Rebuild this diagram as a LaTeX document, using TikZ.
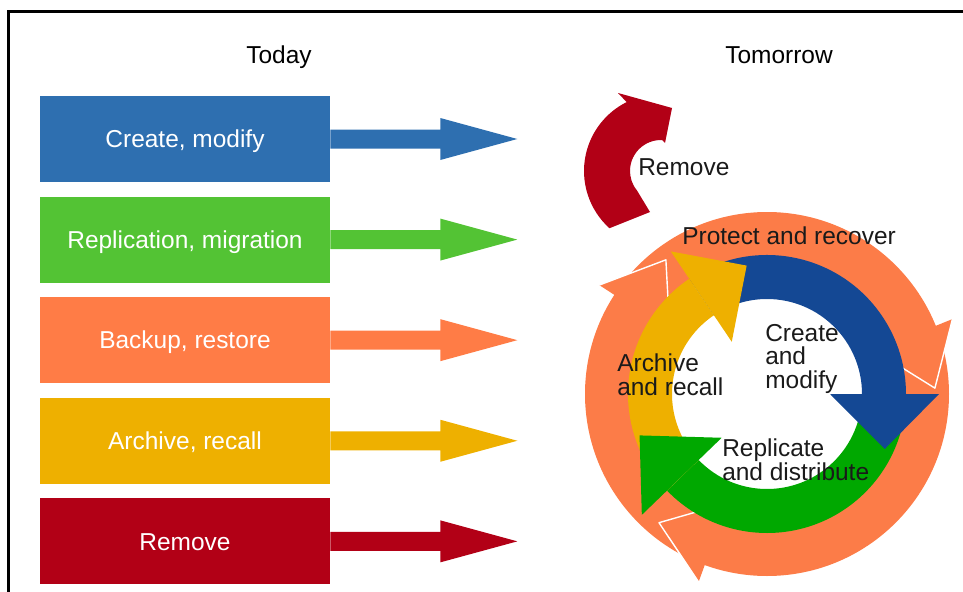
\documentclass[tikz,border=0pt]{standalone}
\usepackage{fontspec}
\setmainfont{Liberation Sans}
\usetikzlibrary{positioning}

\definecolor{boxblue}{RGB}{46,111,176}
\definecolor{boxgreen}{RGB}{83,195,52}
\definecolor{boxorange}{RGB}{255,124,70}
\definecolor{boxyellow}{RGB}{238,176,0}
\definecolor{boxred}{RGB}{178,0,22}
\definecolor{ringblue}{RGB}{20,72,148}
\definecolor{ringgreen}{RGB}{0,168,0}
\definecolor{ringorange}{RGB}{252,124,72}
\definecolor{ringyellow}{RGB}{238,176,0}
\definecolor{textgray}{RGB}{26,26,26}

\tikzset{
  todaybox/.style={rectangle, minimum width=7.25cm, minimum height=2.15cm,
    inner sep=0pt, text=white, text height=12.4pt, text depth=0pt},
  ringtext/.style={anchor=base west, inner sep=0pt, align=left, text=textgray},
}

\begin{document}
\begin{tikzpicture}[x=0.025cm, y=0.025cm, font=\fontsize{17.4}{16.6}\selectfont]
    \useasboundingbox (0,0) rectangle (963,-592);
    \clip (0,0) rectangle (963,-592);
    \draw[line width=2.1pt] (8.8,-650) -- (8.8,-11.8) -- (1000,-11.8);

    % today
    \node[anchor=base] (today) at (279,-63) {Today};
    \node[todaybox, fill=boxblue] (create) at (185,-139) {Create, modify};
    \node[todaybox, fill=boxgreen, below=0.35cm of create] (replic) {Replication, migration};
    \node[todaybox, fill=boxorange, below=0.35cm of replic] (backup) {Backup, restore};
    \node[todaybox, fill=boxyellow, below=0.35cm of backup] (archive) {Archive, recall};
    \node[todaybox, fill=boxred, below=0.35cm of archive] (remove) {Remove};
    \foreach \b/\c in {create/boxblue, replic/boxgreen, backup/boxorange, archive/boxyellow, remove/boxred}
      \fill[\c] (\b.east) ++(0,9.5) -- ++(110,0) -- ++(0,11.5) -- ++(77,-21)
        -- ++(-77,-21) -- ++(0,11.5) -- ++(-110,0) -- cycle;

    % tomorrow
    \node[anchor=base] (tomorrow) at (779,-63) {Tomorrow};
    \begin{scope}[shift={(661,-171)}]
      \fill[boxred] (228:77) arc[start angle=228, end angle=116.5, radius=77]
        -- (-43,78) -- (11,63) -- (4,28) -- (88:31)
        arc[start angle=88, end angle=220, radius=31] -- (-11,-41) -- cycle;
    \end{scope}
    \begin{scope}[shift={(767,-394)}]
      \fill[ringorange, even odd rule] (0,0) circle[radius=182] (0,0) circle[radius=132];
      \foreach \a in {22,147,250} {
        \fill[ringorange] (\a:200) -- (\a-20:168) -- (\a:116) -- cycle;
        \draw[white, line width=1pt, line join=round] (\a:200) -- (\a-20:168) -- (\a:116);
      }
      \fill[ringblue] (124:139) arc[start angle=124, end angle=0, radius=139]
        -- (0:95) arc[start angle=0, end angle=124, radius=95] -- cycle;
      \fill[ringgreen] (0:139) arc[start angle=0, end angle=-136, radius=139]
        -- (-136:95) arc[start angle=-136, end angle=0, radius=95] -- cycle;
      \fill[ringyellow] (-136:139) arc[start angle=-136, end angle=-236, radius=139]
        -- (-236:95) arc[start angle=-236, end angle=-136, radius=95] -- cycle;
      \fill[ringblue] (0:63) -- (0:172) -- (-25:130) -- cycle;
      \fill[ringgreen] (224:63) -- (224:174) -- (198:134) -- cycle;
      \fill[ringyellow] (124:63) -- (124:172) -- (99:130) -- cycle;
    \end{scope}
    \node[ringtext] (removetext) at (638,-175) {Remove};
    \node[ringtext] (protect) at (682,-244) {Protect and recover};
    \node[ringtext] (createtext) at (765,-388) {Create\\and\\modify};
    \node[ringtext] (archivetext) at (617,-395) {Archive\\and recall};
    \node[ringtext] (replictext) at (722,-480) {Replicate\\and distribute};
\end{tikzpicture}
\end{document}
